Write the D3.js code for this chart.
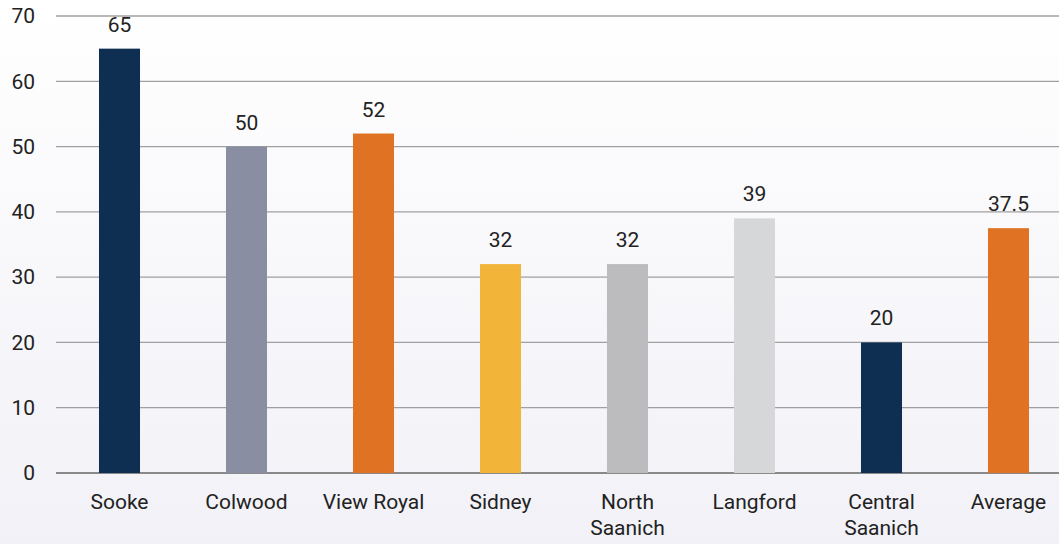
<!DOCTYPE html>
<html>
<head>
<meta charset="utf-8">
<script src="https://cdn.jsdelivr.net/npm/d3@7"></script>
<style>
  html, body { margin: 0; padding: 0; background: #fff; }
  #chart text { font-family: Roboto, "Noto Sans", sans-serif; fill: #222; }
</style>
</head>
<body>
<div id="chart"></div>
<script>
const categories = ["Sooke", "Colwood", "View Royal", "Sidney", "North Saanich", "Langford", "Central Saanich", "Average"];
const values = [65, 50, 52, 32, 32, 39, 20, 37.5];
const barColors = ["#0f2f52", "#8a8ea2", "#df7323", "#f2b53a", "#bcbcbe", "#d6d7d9", "#0f2f52", "#df7323"];
const yTicks = [0, 10, 20, 30, 40, 50, 60, 70];

const width = 1059, height = 544;
const margin = { top: 16, right: -13, bottom: 71, left: 56 };

const svg = d3.select("#chart").append("svg")
  .attr("width", width)
  .attr("height", height);

const defs = svg.append("defs");
const grad = defs.append("linearGradient")
  .attr("id", "bg").attr("x1", 0).attr("y1", 0).attr("x2", 0).attr("y2", 1);
grad.append("stop").attr("offset", "0%").attr("stop-color", "#ffffff");
grad.append("stop").attr("offset", "100%").attr("stop-color", "#f1f1f7");
svg.append("rect").attr("width", width).attr("height", height).attr("fill", "url(#bg)");

const x = d3.scaleBand()
  .domain(categories)
  .range([margin.left, width - margin.right])
  .paddingInner(0.677)
  .paddingOuter(0.3385);

const y = d3.scaleLinear()
  .domain([0, 70])
  .range([height - margin.bottom, margin.top]);

// gridlines
svg.append("g")
  .selectAll("line")
  .data(yTicks)
  .join("line")
  .attr("x1", margin.left)
  .attr("x2", width)
  .attr("y1", d => y(d))
  .attr("y2", d => y(d))
  .attr("stroke", d => d === 0 ? "#666" : "#a0a0a0")
  .attr("stroke-width", 1.3);

// y labels
svg.append("g")
  .selectAll("text")
  .data(yTicks)
  .join("text")
  .attr("x", 35)
  .attr("y", d => y(d))
  .attr("dy", "0.35em")
  .attr("text-anchor", "end")
  .style("font-size", "21px")
  .text(d => d);

const data = categories.map((c, i) => ({ name: c, value: values[i], color: barColors[i] }));

// bars
svg.append("g")
  .selectAll("rect")
  .data(data)
  .join("rect")
  .attr("x", d => x(d.name))
  .attr("width", x.bandwidth())
  .attr("y", d => y(d.value))
  .attr("height", d => y(0) - y(d.value))
  .attr("fill", d => d.color);

// value labels
svg.append("g")
  .selectAll("text")
  .data(data)
  .join("text")
  .attr("x", d => x(d.name) + x.bandwidth() / 2)
  .attr("y", d => y(d.value) - 17)
  .attr("text-anchor", "middle")
  .style("font-size", "21px")
  .text(d => d.value);

// category labels, wrapped onto two lines where needed
const catLabels = svg.append("g")
  .selectAll("text")
  .data(data)
  .join("text")
  .attr("x", d => x(d.name) + x.bandwidth() / 2)
  .attr("y", 509)
  .attr("text-anchor", "middle")
  .style("font-size", "21px");

catLabels.each(function (d) {
  const words = d.name === "View Royal" ? [d.name] : d.name.split(" ");
  const t = d3.select(this);
  words.forEach((w, i) => {
    t.append("tspan")
      .attr("x", x(d.name) + x.bandwidth() / 2)
      .attr("dy", i === 0 ? 0 : 26)
      .text(w);
  });
});
</script>
</body>
</html>
